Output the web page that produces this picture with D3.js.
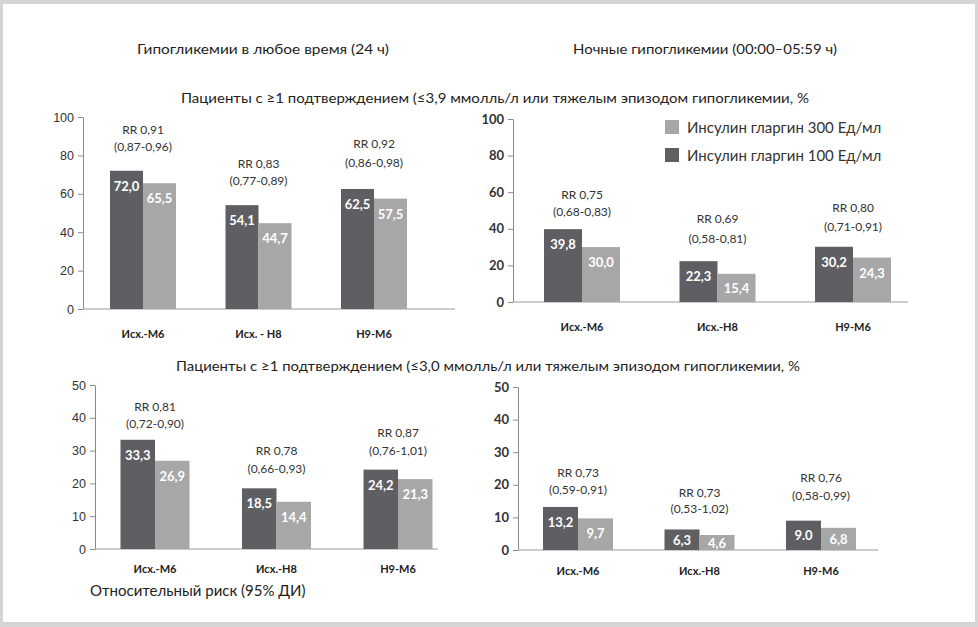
<!DOCTYPE html>
<html><head><meta charset="utf-8">
<script src="https://cdn.jsdelivr.net/npm/d3@7"></script>
<style>
html,body{margin:0;padding:0;background:#d5d5d5;}
svg{display:block;}
</style></head>
<body>
<svg id="c" width="978" height="627"></svg>
<script>
// ---- data ----
const categoriesTL = ["Исх.-М6", "Исх. - Н8", "Н9-М6"];
const categoriesOther = ["Исх.-М6", "Исх.-Н8", "Н9-М6"];
const seriesNames = ["Инсулин гларгин 100 Ед/мл", "Инсулин гларгин 300 Ед/мл"];
const legendOrder = ["Инсулин гларгин 300 Ед/мл", "Инсулин гларгин 100 Ед/мл"];

const any39_g100 = [72.0, 54.1, 62.5];
const any39_g300 = [65.5, 44.7, 57.5];
const any39_rr = ["RR 0,91", "RR 0,83", "RR 0,92"];
const any39_ci = ["(0,87-0,96)", "(0,77-0,89)", "(0,86-0,98)"];

const night39_g100 = [39.8, 22.3, 30.2];
const night39_g300 = [30.0, 15.4, 24.3];
const night39_rr = ["RR 0,75", "RR 0,69", "RR 0,80"];
const night39_ci = ["(0,68-0,83)", "(0,58-0,81)", "(0,71-0,91)"];

const any30_g100 = [33.3, 18.5, 24.2];
const any30_g300 = [26.9, 14.4, 21.3];
const any30_rr = ["RR 0,81", "RR 0,78", "RR 0,87"];
const any30_ci = ["(0,72-0,90)", "(0,66-0,93)", "(0,76-1,01)"];

const night30_g100 = [13.2, 6.3, 9.0];
const night30_g300 = [9.7, 4.6, 6.8];
const night30_rr = ["RR 0,73", "RR 0,73", "RR 0,76"];
const night30_ci = ["(0,59-0,91)", "(0,53-1,02)", "(0,58-0,99)"];

const labels100_night30 = ["13,2", "6,3", "9.0"];

const ticks100 = [0, 20, 40, 60, 80, 100];
const ticks50 = [0, 10, 20, 30, 40, 50];

const titleAny = "Гипогликемии в любое время (24 ч)";
const titleNight = "Ночные гипогликемии (00:00–05:59 ч)";
const subtitle39 = "Пациенты с ≥1 подтверждением (≤3,9 ммолль/л или тяжелым эпизодом гипогликемии, %";
const subtitle30 = "Пациенты с ≥1 подтверждением (≤3,0 ммолль/л или тяжелым эпизодом гипогликемии, %";
const footnote = "Относительный риск (95% ДИ)";

// ---- styles ----
const DARK = "#5f5f63", LIGHT = "#a7a7a7";
const colorScale = d3.scaleOrdinal().domain(seriesNames).range([DARK, LIGHT]);
const fmt = v => d3.format(".1f")(v).replace(".", ",");

const svg = d3.select("#c");
svg.append("rect").attr("x", 3).attr("y", 4).attr("width", 972).attr("height", 618).attr("fill", "#fff");

// titles
function title(txt, cx, y, w, size) {
  svg.append("text").attr("x", cx).attr("y", y).attr("text-anchor", "middle")
    .attr("dominant-baseline", "central")
    .attr("font-family", "Lato, 'Open Sans', sans-serif").attr("font-size", size).attr("fill", "#222")
    .attr("textLength", w).attr("lengthAdjust", "spacingAndGlyphs").text(txt);
}
title(titleAny, 263, 48, 252, 14);
title(titleNight, 705, 48, 264, 14);
title(subtitle39, 495, 97, 628, 14);
title(subtitle30, 488, 365, 624, 14);
svg.append("text").attr("x", 90).attr("y", 590).attr("dominant-baseline", "central")
  .attr("font-family", "Lato, sans-serif").attr("font-size", 15).attr("fill", "#222").text(footnote);

// panels
const panels = [
  { cats: categoriesTL, a: any39_g100, b: any39_g300, rr: any39_rr, ci: any39_ci, max: 100, ticks: ticks100,
    ax: 83, y0: 309, yTop: 117, c0: 143, c1: 374, band: 66, bEnd: 455, bold: false, catY: 333,
    rrDy: [[-41, -24], [-42, -25], [-46, -27]], labA: null },
  { cats: categoriesOther, a: night39_g100, b: night39_g300, rr: night39_rr, ci: night39_ci, max: 100, ticks: ticks100,
    ax: 513, y0: 302, yTop: 119, c0: 582, c1: 853, band: 76, bEnd: 908, bold: true, catY: 326,
    rrDy: [[-35, -18], [-43, -23], [-39, -20]], labA: null },
  { cats: categoriesOther, a: any30_g100, b: any30_g300, rr: any30_rr, ci: any30_ci, max: 50, ticks: ticks50,
    ax: 95, y0: 549, yTop: 385, c0: 155, c1: 398, band: 69, bEnd: 438, bold: false, catY: 568,
    rrDy: [[-33, -16], [-38, -20], [-37, -19]], labA: null },
  { cats: categoriesOther, a: night30_g100, b: night30_g300, rr: night30_rr, ci: night30_ci, max: 50, ticks: ticks50,
    ax: 518, y0: 550, yTop: 387, c0: 578, c1: 821, band: 70, bEnd: 878, bold: true, catY: 570,
    rrDy: [[-34, -17], [-37, -21], [-43, -25]], labA: labels100_night30 }
];

panels.forEach(p => {
  const g = svg.append("g");
  const y = d3.scaleLinear().domain([0, p.max]).range([p.y0, p.yTop]);
  const step = (p.c1 - p.c0) / (p.cats.length - 1);
  const pad = 1 - p.band / step;
  const x = d3.scaleBand().domain(p.cats)
    .range([p.c0 - step / 2, p.c1 + step / 2]).paddingInner(pad).paddingOuter(pad / 2);
  const xs = d3.scaleBand().domain(seriesNames).range([0, x.bandwidth()]).padding(0);

  // y axis
  const axis = d3.axisLeft(y).tickValues(p.ticks).tickSize(5).tickPadding(4).tickSizeOuter(0);
  const ag = g.append("g").attr("transform", `translate(${p.ax},0)`).call(axis);
  ag.select(".domain").attr("stroke", "#8a8a8a");
  ag.selectAll(".tick line").attr("stroke", "#8a8a8a");
  ag.selectAll(".tick text")
    .attr("font-family", p.bold ? "Lato, sans-serif" : "'Liberation Sans', Arial, sans-serif")
    .attr("font-weight", p.bold ? "bold" : "normal")
    .attr("font-size", p.bold ? 13 : 12.5).attr("fill", "#333");
  // baseline
  g.append("line").attr("x1", p.ax).attr("x2", p.bEnd).attr("y1", y(0)).attr("y2", y(0))
    .attr("stroke", "#9a9a9a").attr("stroke-width", 1);

  const rows = p.cats.map((c, i) => ({ cat: c, i, vals: [
    { s: seriesNames[0], v: p.a[i], lab: p.labA ? p.labA[i] : fmt(p.a[i]) },
    { s: seriesNames[1], v: p.b[i], lab: fmt(p.b[i]) }] }));

  const grp = g.selectAll(".grp").data(rows).join("g").attr("transform", d => `translate(${x(d.cat)},0)`);
  grp.selectAll("rect").data(d => d.vals).join("rect")
    .attr("x", d => xs(d.s)).attr("width", xs.bandwidth())
    .attr("y", d => y(d.v)).attr("height", d => y(0) - y(d.v))
    .attr("fill", d => colorScale(d.s));
  grp.selectAll("text.val").data(d => d.vals).join("text").attr("class", "val")
    .attr("x", d => xs(d.s) + xs.bandwidth() / 2)
    .attr("y", d => y(d.v) + Math.min(15, (y(0) - y(d.v)) / 2))
    .attr("text-anchor", "middle").attr("dominant-baseline", "central")
    .attr("font-family", "Lato, sans-serif").attr("font-weight", "bold").attr("font-size", 13)
    .attr("fill", "#fff").text(d => d.lab);

  // RR labels
  grp.each(function (d) {
    const top = y(Math.max(p.a[d.i], p.b[d.i]));
    const cx = x.bandwidth() / 2;
    const sel = d3.select(this);
    [p.rr[d.i], p.ci[d.i]].forEach((t, k) => {
      sel.append("text").attr("x", cx).attr("y", top + p.rrDy[d.i][k])
        .attr("text-anchor", "middle").attr("dominant-baseline", "central")
        .attr("font-family", "Lato, sans-serif").attr("font-size", 12).attr("fill", "#333").text(t);
    });
    sel.append("text").attr("x", cx).attr("y", p.catY)
      .attr("text-anchor", "middle").attr("dominant-baseline", "central")
      .attr("font-family", "Lato, sans-serif").attr("font-weight", "bold").attr("font-size", 11)
      .attr("fill", "#222").text(d.cat);
  });
});

// legend (top-right)
const lg = svg.append("g");
legendOrder.forEach((name, i) => {
  const yy = 127 + i * 28;
  lg.append("rect").attr("x", 665).attr("y", yy - 7).attr("width", 14).attr("height", 14).attr("fill", colorScale(name));
  lg.append("text").attr("x", 687).attr("y", yy).attr("dominant-baseline", "central")
    .attr("font-family", "Lato, sans-serif").attr("font-size", 15).attr("fill", "#333").text(name);
});
</script>
</body></html>
